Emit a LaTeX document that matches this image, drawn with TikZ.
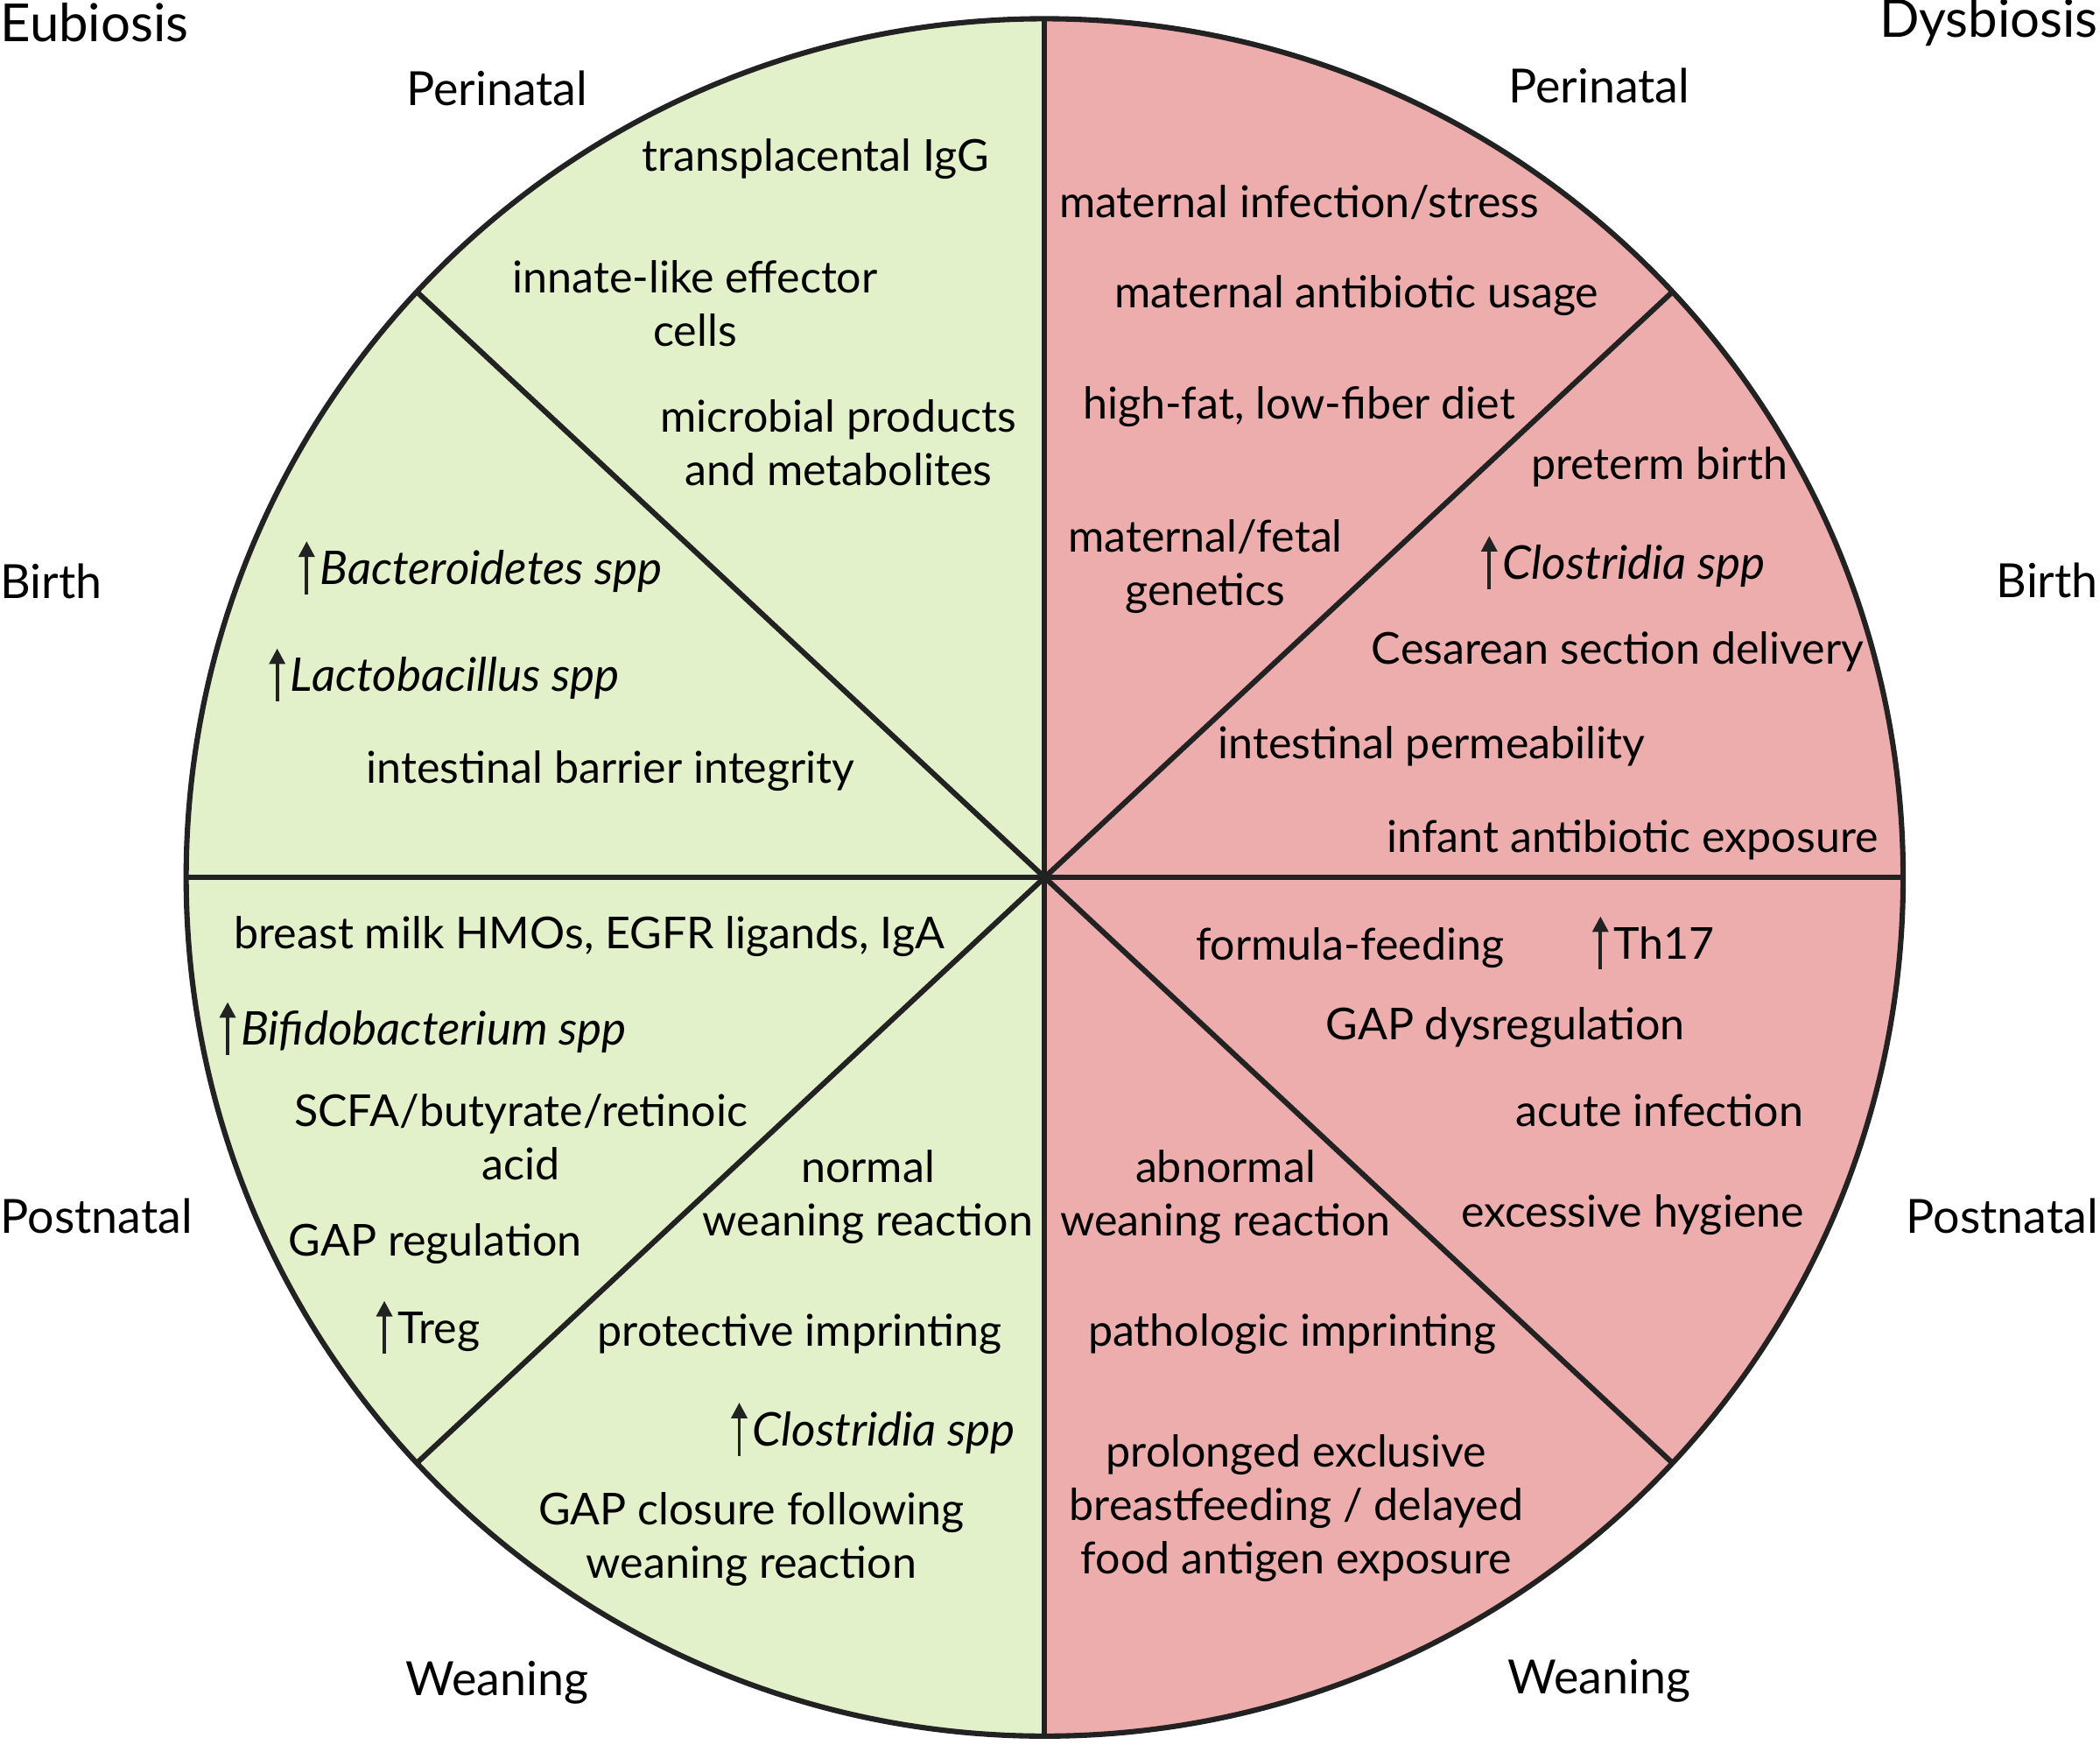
\documentclass[tikz,border=0pt]{standalone}
\usepackage{fontspec}
\setmainfont{Lato}
\usetikzlibrary{arrows.meta,positioning,calc}
\definecolor{eugreen}{RGB}{226,241,202}
\definecolor{dysred}{RGB}{237,173,173}
\definecolor{edge}{RGB}{34,34,34}
\tikzset{
    item/.style={align=center, inner sep=1pt, yshift=-1.2pt, font=\fontsize{14}{17}\selectfont},
    phase/.style={inner sep=0pt, font=\fontsize{15}{18}\selectfont},
    side/.style={phase, font=\fontsize{16.7}{20}\selectfont},
    rise/.style={inner sep=1pt, anchor=west, yshift=-1.5pt, text height=9.5pt, text depth=3pt, font=\fontsize{14}{17}\selectfont},
    bug/.style={rise, font=\fontsize{14.8}{17}\selectfont\itshape},
    uparr/.style={-{Triangle[length=5pt,width=5pt]}, line width=1.1pt, edge},
    spoke/.style={line width=1.7pt, edge},
}

\begin{document}
\begin{tikzpicture}[x=0.015cm, y=-0.015cm]
    \useasboundingbox (0,0) rectangle (1568,1302);
    \coordinate (c) at (780,655);

    %% the two halves
    \fill[eugreen] (780,14) arc[start angle=-90, end angle=-270, radius=641] -- cycle;
    \fill[dysred] (780,14) arc[start angle=-90, end angle=90, radius=641] -- cycle;

    %% spokes and rim
    \foreach \a in {0,-43,-90,-137,-180,-223,-270,-317}
        \draw[spoke] (c) -- +(\a:641);
    \draw[spoke] (c) circle[radius=641];

    %% headings
    \node[side, anchor=west] (eu) at (0,17) {Eubiosis};
    \node[side, anchor=east] (dys) at (1567,17) {Dysbiosis};
    \node[phase] (peril) at (371,66) {Perinatal};
    \node[phase] (perir) at (1194,64) {Perinatal};
    \node[phase, anchor=west] (birthl) at (0,434) {Birth};
    \node[phase, anchor=east] (birthr) at (1567,433) {Birth};
    \node[phase, anchor=west] (postl) at (0,908) {Postnatal};
    \node[phase, anchor=east] (postr) at (1567,908) {Postnatal};
    \node[phase] (weanl) at (371,1256) {Weaning};
    \node[phase] (weanr) at (1194,1255) {Weaning};

    %% eubiosis, perinatal
    \node[item] (tig) at (609,116) {transplacental IgG};
    \node[item] (ile) at (519,224) {innate-like effector\\cells};
    \node[item] (mpm) at (626,328) {microbial products\\and metabolites};

    %% eubiosis, birth
    \node[bug] (bac) at (236,425) {Bacteroidetes spp};
    \node[bug] (lac) at (214,505) {Lactobacillus spp};
    \node[item] (ibi) at (456,573) {intestinal barrier integrity};

    %% eubiosis, postnatal
    \node[item] (bmh) at (440,696) {breast milk HMOs, EGFR ligands, IgA};
    \node[bug] (bif) at (177,769) {Bifidobacterium spp};
    \node[item] (scfa) at (389,846) {SCFA/butyrate/retinoic\\acid};
    \node[item] (gapr) at (325,926) {GAP regulation};
    \node[rise] (treg) at (294,992) {Treg};

    %% eubiosis, weaning
    \node[item] (nwr) at (648,891) {normal\\weaning reaction};
    \node[item] (pim) at (597,993) {protective imprinting};
    \node[bug] (clol) at (559,1068) {Clostridia spp};
    \node[item] (gcf) at (561,1146) {GAP closure following\\weaning reaction};

    %% dysbiosis, perinatal
    \node[item] (mis) at (970,148) {maternal infection/stress};
    \node[item] (mau) at (1013,218) {maternal antibiotic usage};
    \node[item] (hfd) at (970,301) {high-fat, low-fiber diet};
    \node[item] (mfg) at (900,420) {maternal/fetal\\genetics};

    %% dysbiosis, birth
    \node[item] (ptb) at (1239,346) {preterm birth};
    \node[bug] (clor) at (1119,421) {Clostridia spp};
    \node[item] (csd) at (1208,484) {Cesarean section delivery};
    \node[item] (ipe) at (1069,554) {intestinal permeability};
    \node[item] (iae) at (1219,624) {infant antibiotic exposure};

    %% dysbiosis, postnatal
    \node[item] (ffd) at (1008,705) {formula-feeding};
    \node[rise] (th17) at (1202,705) {Th17};
    \node[item] (gapd) at (1124,764) {GAP dysregulation};
    \node[item] (ain) at (1239,826) {acute infection};
    \node[item] (exh) at (1219,904) {excessive hygiene};

    %% dysbiosis, weaning
    \node[item] (awr) at (915,891) {abnormal\\weaning reaction};
    \node[item] (pai) at (965,993) {pathologic imprinting};
    \node[item] (peb) at (968,1123) {prolonged exclusive\\breastfeeding / delayed\\food antigen exposure};

    %% up arrows
    \foreach \n in {bac,lac,bif,treg,clol,clor,th17}
        \draw[uparr] ([xshift=-3pt,yshift=1pt]\n.south west) -- ([xshift=-3pt,yshift=3pt]\n.north west);
\end{tikzpicture}
\end{document}
